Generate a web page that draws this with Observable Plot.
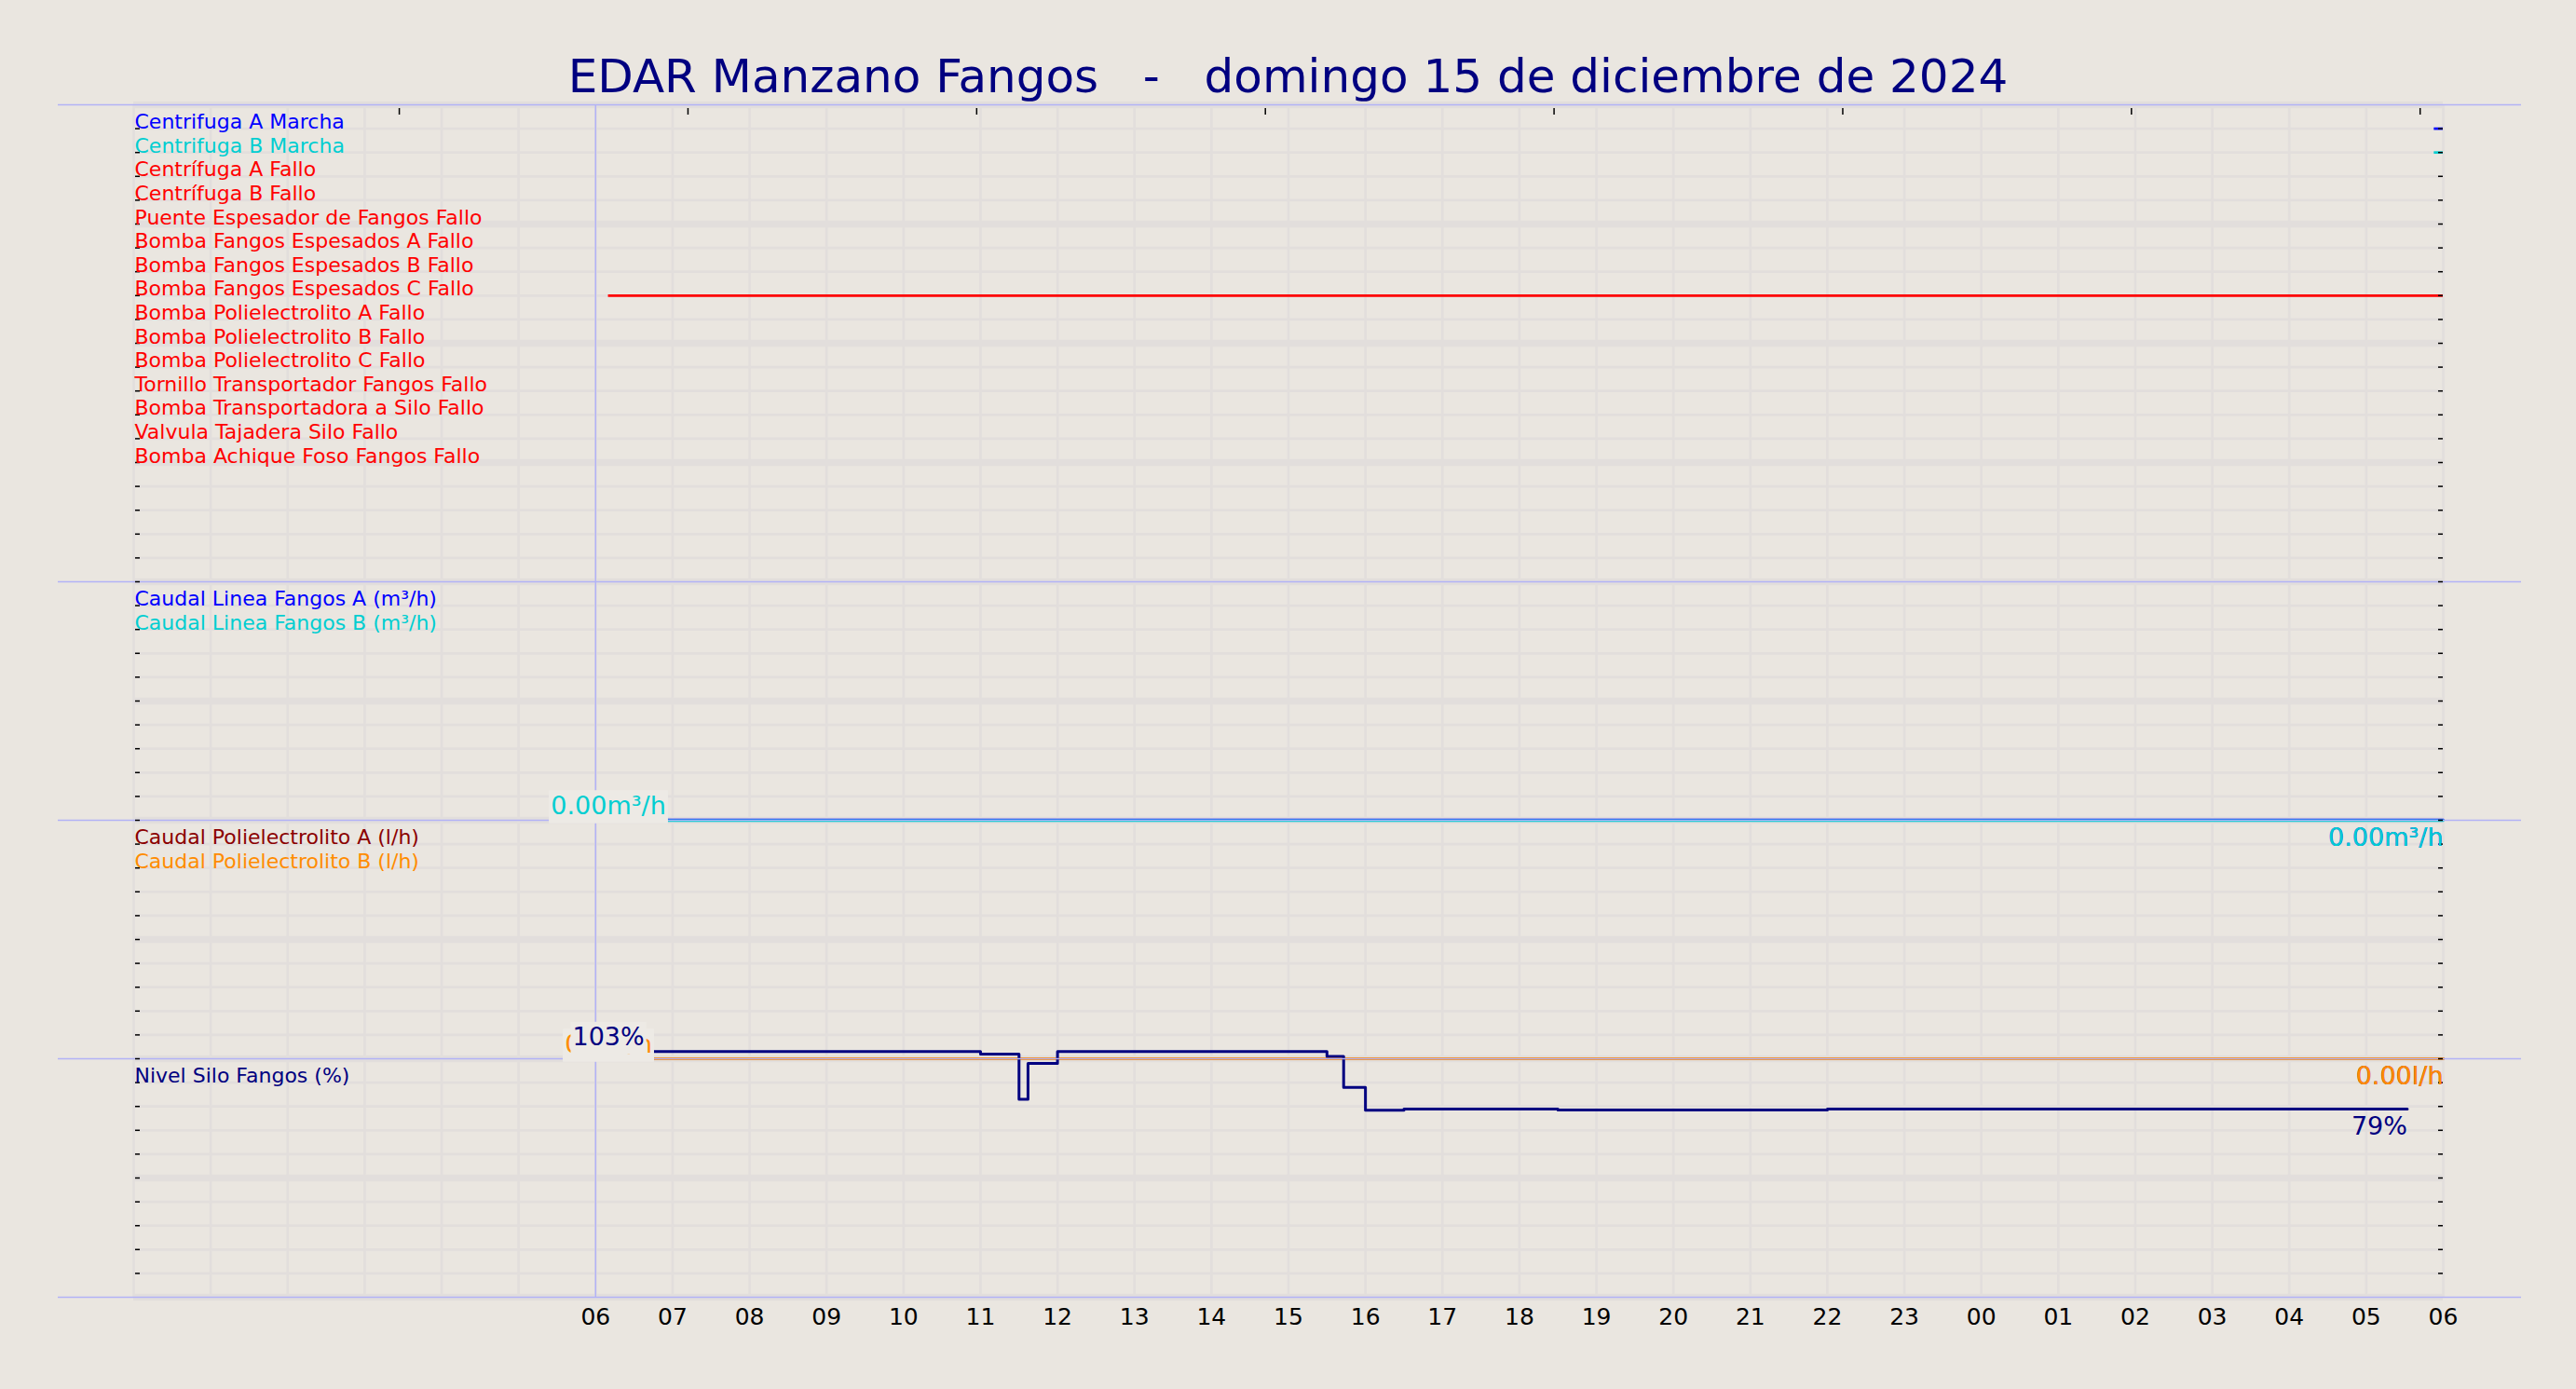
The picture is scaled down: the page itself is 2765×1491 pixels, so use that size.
<!DOCTYPE html>
<html><head><meta charset="utf-8">
<script src="https://cdn.jsdelivr.net/npm/d3@7"></script>
<script src="https://cdn.jsdelivr.net/npm/@observablehq/plot@0.6"></script>
<style>
html,body{margin:0;padding:0;background:#EAE6E0;width:2765px;height:1491px;overflow:hidden;font-family:"DejaVu Sans",sans-serif;}
#title{position:absolute;left:0;top:57px;width:2765px;text-align:center;font-size:50px;line-height:1;color:#000080;white-space:pre;}
#chart{position:absolute;left:0;top:100px;}
</style></head><body>
<div id="title"></div><div id="chart"></div>
<script>
const titleText = "EDAR Manzano Fangos   -   domingo 15 de diciembre de 2024";

// ---- time axis ----
const xDomain = ["2024-12-15T00:00Z", "2024-12-16T06:00Z"];
const tickTimes = [
  "2024-12-15T06:00Z","2024-12-15T07:00Z","2024-12-15T08:00Z","2024-12-15T09:00Z","2024-12-15T10:00Z",
  "2024-12-15T11:00Z","2024-12-15T12:00Z","2024-12-15T13:00Z","2024-12-15T14:00Z","2024-12-15T15:00Z",
  "2024-12-15T16:00Z","2024-12-15T17:00Z","2024-12-15T18:00Z","2024-12-15T19:00Z","2024-12-15T20:00Z",
  "2024-12-15T21:00Z","2024-12-15T22:00Z","2024-12-15T23:00Z","2024-12-16T00:00Z","2024-12-16T01:00Z",
  "2024-12-16T02:00Z","2024-12-16T03:00Z","2024-12-16T04:00Z","2024-12-16T05:00Z","2024-12-16T06:00Z"
];
const topTickTimes = [
  "2024-12-15T03:27Z","2024-12-15T07:12Z","2024-12-15T10:57Z","2024-12-15T14:42Z",
  "2024-12-15T18:27Z","2024-12-15T22:12Z","2024-12-16T01:57Z","2024-12-16T05:42Z"
];
const markerTimes = ["2024-12-15T06:00Z"];

// ---- digital signals (panel 1) ----
const signalNames = [
  "Centrifuga A Marcha","Centrifuga B Marcha","Centrífuga A Fallo","Centrífuga B Fallo",
  "Puente Espesador de Fangos Fallo","Bomba Fangos Espesados A Fallo","Bomba Fangos Espesados B Fallo",
  "Bomba Fangos Espesados C Fallo","Bomba Polielectrolito A Fallo","Bomba Polielectrolito B Fallo",
  "Bomba Polielectrolito C Fallo","Tornillo Transportador Fangos Fallo","Bomba Transportadora a Silo Fallo",
  "Valvula Tajadera Silo Fallo","Bomba Achique Foso Fangos Fallo"
];
const signalColors = ["#0000FF","#00CED1","#FF0000","#FF0000","#FF0000","#FF0000","#FF0000",
  "#FF0000","#FF0000","#FF0000","#FF0000","#FF0000","#FF0000","#FF0000","#FF0000"];
const signalOnStart = ["2024-12-16T05:53Z","2024-12-16T05:53Z",null,null,null,null,null,
  "2024-12-15T06:10Z",null,null,null,null,null,null,null];
const signalOnEnd = ["2024-12-16T06:00Z","2024-12-16T06:00Z",null,null,null,null,null,
  "2024-12-16T06:00Z",null,null,null,null,null,null,null];

// ---- analog flows ----
const flowTimes = ["2024-12-15T06:10Z", "2024-12-16T06:00Z"];
const caudalLineaA = [0, 0];
const caudalLineaB = [0, 0];
const caudalPoliA = [0, 0];
const caudalPoliB = [0, 0];
const caudalLineaMax = 50;
const caudalPoliMax = 500;

// ---- silo level ----
const nivelTimes = ["2024-12-15T06:10Z","2024-12-15T11:00Z","2024-12-15T11:30Z","2024-12-15T11:37Z",
  "2024-12-15T12:00Z","2024-12-15T15:30Z","2024-12-15T15:43Z","2024-12-15T16:00Z","2024-12-15T16:30Z",
  "2024-12-15T18:30Z","2024-12-15T22:00Z","2024-12-16T05:32Z"];
const nivelValues = [103, 102, 83, 98, 103, 101, 88, 78.4, 78.9, 78.5, 78.9, 78.9];
const nivelMax = 100;

// ---- styling ----
const bg = "#EAE6E0", boxFill = "#EDEAE5", gridColor = "#E2DEDC", sepColor = "#B2B2F6";
const W = 2765, ML = 143, MR = 143, MT = 12, FH = 1280, MB = 50, FW = W - ML - MR;

const parse = d3.isoParse;
const yLinea = v => 20 + v / caudalLineaMax * 10;
const yPoli = v => 10 + v / caudalPoliMax * 10;
const yNivel = v => v / nivelMax * 10;

const signalRows = signalNames.map((name, i) => ({
  name, color: signalColors[i], y: 49 - i,
  start: signalOnStart[i] ? parse(signalOnStart[i]) : null,
  end: signalOnEnd[i] ? parse(signalOnEnd[i]) : null
}));

const f2 = d3.format(".2f"), f0 = d3.format(".0f");
const series = [
  {name: "Caudal Linea Fangos A (m³/h)", color: "#0000FF", times: flowTimes, values: caudalLineaA, toY: yLinea, labelY: 29, fmt: v => f2(v) + "m³/h", dy: -0.6, sw: 2.4},
  {name: "Caudal Linea Fangos B (m³/h)", color: "#00CED1", times: flowTimes, values: caudalLineaB, toY: yLinea, labelY: 28, fmt: v => f2(v) + "m³/h", dy: 0.3, sw: 2.7},
  {name: "Caudal Polielectrolito A (l/h)", color: "#8B0000", times: flowTimes, values: caudalPoliA, toY: yPoli, labelY: 19, fmt: v => f2(v) + "l/h", dy: 0, sw: 2.4},
  {name: "Caudal Polielectrolito B (l/h)", color: "#FF8C00", times: flowTimes, values: caudalPoliB, toY: yPoli, labelY: 18, fmt: v => f2(v) + "l/h", dy: 0, sw: 2.8},
  {name: "Nivel Silo Fangos (%)", color: "#000080", times: nivelTimes, values: nivelValues, toY: yNivel, labelY: 9, fmt: v => f0(v) + "%", dy: 0, sw: 3, step: true}
];

const nameLabels = [
  ...signalRows.map(d => ({name: d.name, color: d.color, y: d.y})),
  ...series.map(s => ({name: s.name, color: s.color, y: s.labelY}))
];
const startLabels = series.map(s => ({t: parse(s.times[0]), y: s.toY(s.values[0]), label: s.fmt(s.values[0]), color: s.color}));
const endLabels = series.map(s => ({t: parse(s.times[s.times.length - 1]), y: s.toY(s.values[s.values.length - 1]), label: s.fmt(s.values[s.values.length - 1]), color: s.color}));

const d0 = parse(xDomain[0]), d1 = parse(xDomain[1]);
const gridHours = d3.utcHour.range(d0, new Date(+d1 + 1));
const yMinor = d3.range(0, 51);
const yMajor = d3.range(0, 51, 5);
const yTickVals = d3.range(1, 50);
const separatorLevels = [0, 10, 20, 30, 50];

const marks = [
  Plot.gridX(gridHours, {stroke: gridColor, strokeOpacity: 1, strokeWidth: 2.7}),
  Plot.gridY(yMinor, {stroke: gridColor, strokeOpacity: 1, strokeWidth: 2.7}),
  Plot.gridY(yMajor, {stroke: gridColor, strokeOpacity: 1, strokeWidth: 7.3}),
  Plot.ruleX(markerTimes.map(parse), {stroke: sepColor, strokeWidth: 1.5}),
  Plot.ruleY(signalRows.filter(d => d.start), {y: "y", x1: "start", x2: "end", stroke: "color", strokeWidth: 2.7}),
  ...series.map(s => Plot.line(s.times.map((t, i) => ({t: parse(t), y: s.toY(s.values[i])})), {
    x: "t", y: "y", stroke: s.color, strokeWidth: s.sw, dy: s.dy,
    curve: s.step ? "step-after" : "linear"
  })),
  Plot.ruleY(separatorLevels, {stroke: sepColor, strokeWidth: 1.5, insetLeft: -81, insetRight: -84}),
  Plot.tickX(topTickTimes.map(parse), {stroke: "black", strokeWidth: 1.5, insetTop: 4, insetBottom: FH - 11}),
  Plot.tickY(yTickVals, {stroke: "black", strokeWidth: 1.5, insetLeft: 2, insetRight: FW - 7}),
  Plot.tickY(yTickVals, {stroke: "black", strokeWidth: 1.5, insetLeft: FW - 5, insetRight: 0}),
  Plot.text(nameLabels, {text: "name", y: "y", fill: "color", frameAnchor: "left", textAnchor: "start", lineAnchor: "bottom", fontSize: 22, dx: 1}),
  Plot.text(startLabels, {x: "t", y: "y", text: "label", fill: "color", textAnchor: "middle", lineAnchor: "bottom", dy: -7, fontSize: 27, className: "startlabel"}),
  Plot.text(endLabels, {x: "t", y: "y", text: "label", fill: "color", textAnchor: "end", lineAnchor: "top", dy: 8, fontSize: 27}),
  Plot.axisX(tickTimes.map(parse), {tickSize: 0, tickPadding: 12, tickFormat: d3.utcFormat("%H"), fontSize: 25, fill: "black", label: null})
];

const chart = Plot.plot({
  width: W, height: MT + FH + MB,
  marginLeft: ML, marginRight: MR, marginTop: MT, marginBottom: MB,
  style: {background: "transparent", fontFamily: "DejaVu Sans, sans-serif", fontSize: "25px", color: "black", overflow: "visible"},
  x: {type: "utc", domain: [d0, d1]},
  y: {domain: [0, 50], axis: null},
  color: {type: "identity"},
  marks
});

document.getElementById("title").textContent = titleText;
document.getElementById("chart").append(chart);

// background boxes behind start-value labels
chart.querySelectorAll("g.startlabel text").forEach(t => {
  const b = t.getBBox();
  const r = document.createElementNS("http://www.w3.org/2000/svg", "rect");
  r.setAttribute("x", b.x - 2);
  r.setAttribute("y", b.y);
  r.setAttribute("width", b.width + 4);
  r.setAttribute("height", b.height + 4);
  r.setAttribute("fill", boxFill);
  const tr = t.getAttribute("transform");
  if (tr) r.setAttribute("transform", tr);
  t.parentNode.insertBefore(r, t);
});
</script>
</body></html>
